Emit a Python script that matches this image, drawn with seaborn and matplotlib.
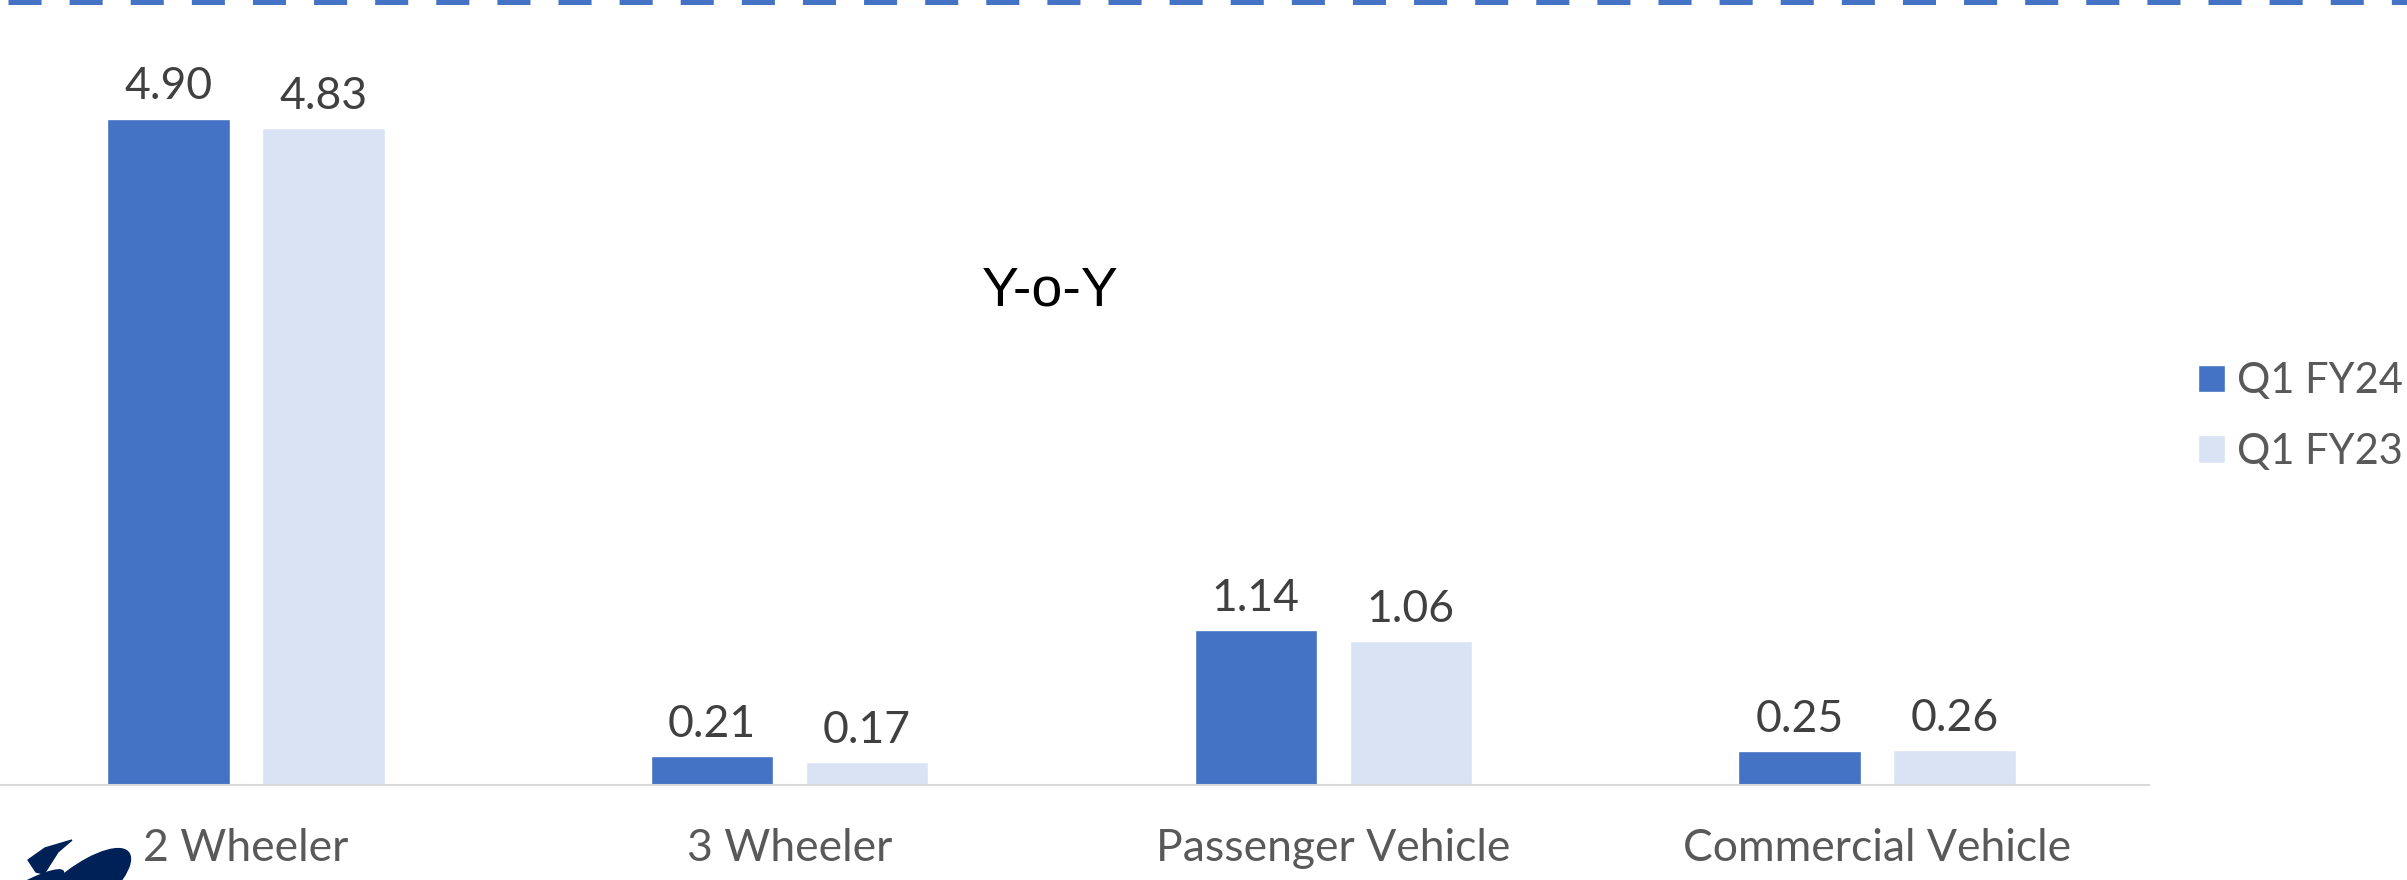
import pandas as pd
import matplotlib.pyplot as plt
import matplotlib.patches as mpatches
from matplotlib.lines import Line2D
import seaborn as sns

categories = ['2 Wheeler', '3 Wheeler', 'Passenger Vehicle', 'Commercial Vehicle']
q1_fy24 = [4.90, 0.21, 1.14, 0.25]
q1_fy23 = [4.83, 0.17, 1.06, 0.26]
series = ['Q1 FY24', 'Q1 FY23']
title = 'Y-o-Y'

df = pd.DataFrame({
    'category': categories * 2,
    'value': q1_fy24 + q1_fy23,
    'series': [series[0]] * 4 + [series[1]] * 4,
})

sns.set_style('white')
plt.rcParams['font.family'] = ['Lato', 'DejaVu Sans']
plt.rcParams['lines.scale_dashes'] = False

W, H = 2407, 880
fig = plt.figure(figsize=(W / 100, H / 100), dpi=100)
# axes in pixel terms: x from -26 to 2149, baseline at 785 px from top
ax = fig.add_axes([-26 / W, 95 / H, 2175 / W, 785 / H])

palette = {'Q1 FY24': '#4472C4', 'Q1 FY23': '#DAE3F3'}
sns.barplot(data=df, x='category', y='value', hue='series', palette=palette,
            width=0.57, gap=0.21, saturation=1, ax=ax, order=categories,
            hue_order=series)

ax.set_ylim(0, 785 / 136)
ax.set_xlim(-0.5, 3.5)
ax.set_xlabel('')
ax.set_ylabel('')
ax.set_yticks([])
ax.tick_params(axis='x', length=0, pad=31, labelsize=32, labelcolor='#595959')
for s in ['top', 'left', 'right']:
    ax.spines[s].set_visible(False)
ax.spines['bottom'].set_color('#D9D9D9')
ax.spines['bottom'].set_linewidth(1.5)

for c in ax.containers:
    ax.bar_label(c, fmt='%.2f', padding=8, fontsize=32, color='#404040')

leg = ax.legend(loc='upper left', bbox_to_anchor=(2198 / W, 1 - 362 / H),
                bbox_transform=fig.transFigure, frameon=False, fontsize=30,
                handlelength=0.64, handleheight=0.64, handletextpad=0.3,
                labelspacing=0.78, borderpad=0, borderaxespad=0)
for t in leg.get_texts():
    t.set_color('#595959')

fig.text(1050 / W, 1 - 291 / H, title, fontsize=40, color='black',
         family=['Liberation Sans', 'DejaVu Sans'], ha='center', va='center')

# dashed line along the top edge
fig.add_artist(Line2D([8 / W, 1], [1 - 2.5 / H, 1 - 2.5 / H], transform=fig.transFigure,
                      color='#4472C4', linewidth=3.6, solid_capstyle='butt',
                      dash_capstyle='butt', linestyle=(0, (23.8, 20.2))))

# partial logo, bottom left corner
def px(x, y):
    return (x / W, 1 - y / H)

navy = '#002157'
fig.add_artist(mpatches.Ellipse(px(78, 892), 64 / W, 92 / H, angle=-20,
                                transform=fig.transFigure, color=navy))
fig.add_artist(mpatches.Ellipse(px(20, 896), 34 / W, 60 / H, angle=-30,
                                transform=fig.transFigure, color=navy))
fig.add_artist(mpatches.Polygon([px(28, 860), px(45, 848), px(72, 840),
                                 px(58, 852), px(44, 874), px(36, 872)],
                                transform=fig.transFigure, color=navy))

fig.savefig('out.png', dpi=100)
